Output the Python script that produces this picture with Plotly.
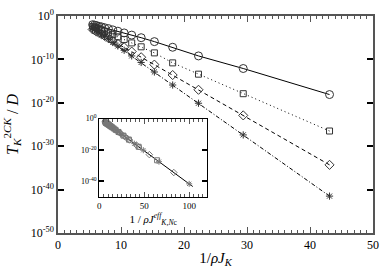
import plotly.graph_objects as go

# ---- data ----
x_main = [43.1, 29.4, 22.3, 18.2, 15.3, 13.2, 11.7, 10.5, 9.5, 8.7, 8.0, 7.4, 6.9, 6.5, 6.1, 5.8, 5.5]
circle_exp = [-18.1, -12.1, -9.2, -7.2, -5.9, -5.0, -4.4, -3.9, -3.5, -3.2, -2.9, -2.7, -2.5, -2.4, -2.2, -2.1, -2.0]
square_exp = [-26.5, -17.9, -13.4, -10.8, -8.5, -7.1, -6.2, -5.4, -4.8, -4.3, -3.9, -3.5, -3.2, -3.0, -2.7, -2.6, -2.4]
diamond_exp = [-34.3, -22.9, -17.0, -13.6, -11.2, -9.5, -8.2, -7.2, -6.4, -5.7, -5.1, -4.6, -4.2, -3.9, -3.6, -3.3, -3.1]
star_exp = [-41.5, -27.4, -20.1, -15.9, -12.9, -10.7, -9.2, -7.9, -6.9, -6.1, -5.3, -4.7, -4.2, -3.8, -3.4, -3.1, -2.9]

# inset: rescaled abscissa 1/rho J_eff
inset_circle_x = [44.3, 30.0, 23.1, 18.3, 15.2, 13.1, 11.7, 10.5, 9.5, 8.8, 8.1, 7.6, 7.1, 6.9, 6.4, 6.2, 6.0]
inset_square_x = [64.3, 43.8, 33.1, 26.9, 21.4, 18.1, 16.0, 14.0, 12.6, 11.4, 10.5, 9.5, 8.8, 8.3, 7.6, 7.4, 6.9]
inset_diamond_x = [82.9, 55.7, 41.7, 33.6, 27.9, 23.8, 20.7, 18.3, 16.4, 14.8, 13.3, 12.1, 11.2, 10.5, 9.8, 9.0, 8.6]
inset_star_x = [100.0, 66.4, 49.0, 39.0, 31.9, 26.7, 23.1, 20.0, 17.6, 15.7, 13.8, 12.4, 11.2, 10.2, 9.3, 8.6, 8.1]
fit_x = [6.0, 104.0]
fit_exp = [-2.0, -43.2]

main_x_ticks = [0, 10, 20, 30, 40, 50]
main_y_ticks_exp = [0, -10, -20, -30, -40, -50]
inset_x_ticks = [0, 50, 100]
inset_y_ticks_exp = [0, -20, -40]


def pw(v):
    return [10.0 ** e for e in v]


def sup_label(e):
    return "10<sup>%d</sup>" % e


FONT = "Liberation Serif"
AX = "#555555"

fig = go.Figure()

series = [
    (circle_exp, inset_circle_x, "circle-open", "solid", 8),
    (square_exp, inset_square_x, "square-open", "1px,3px", 6),
    (diamond_exp, inset_diamond_x, "diamond-open", "4px,3px", 7),
    (star_exp, inset_star_x, "asterisk-open", "4px,2px,1px,2px", 6),
]

for ys, _, sym, dash, sz in series:
    fig.add_trace(go.Scatter(
        x=x_main, y=pw(ys), mode="lines+markers",
        line=dict(color="black", width=1, dash=dash),
        marker=dict(symbol=sym, size=sz, color="#333333", line=dict(color="#333333", width=1)),
        xaxis="x", yaxis="y", showlegend=False))

fig.add_trace(go.Scatter(
    x=fit_x, y=pw(fit_exp), mode="lines",
    line=dict(color="black", width=1), xaxis="x2", yaxis="y2", showlegend=False))

for ys, ix, sym, dash, sz in series:
    fig.add_trace(go.Scatter(
        x=ix, y=pw(ys), mode="markers",
        marker=dict(symbol=sym, size=5, color="#777777", line=dict(color="#777777", width=1)),
        xaxis="x2", yaxis="y2", showlegend=False))

fig.update_layout(
    width=387, height=273,
    margin=dict(l=58, r=8, t=9, b=40),
    paper_bgcolor="white", plot_bgcolor="white",
    font=dict(family=FONT, color="black", size=12),
    xaxis=dict(
        range=[0, 50], tickvals=main_x_ticks, ticks="inside", ticklen=6,
        tickcolor=AX, showline=True, linecolor=AX, linewidth=1.5, mirror="ticks",
        showgrid=False, zeroline=False, tickfont=dict(size=12, family=FONT),
        ticklabeloverflow="allow",
        minor=dict(dtick=1, ticks="inside", ticklen=3, tickcolor=AX, showgrid=False),
        title=dict(text="1/<i>ρJ</i><sub><i>K</i></sub>", font=dict(size=15, family=FONT), standoff=1),
    ),
    yaxis=dict(
        type="log", range=[-50, 0], tickvals=pw(main_y_ticks_exp),
        ticktext=[sup_label(e) for e in main_y_ticks_exp],
        ticks="inside", ticklen=6, tickwidth=2, tickcolor="black",
        showline=True, linecolor=AX, linewidth=1.5, mirror="ticks",
        showgrid=False, zeroline=False, tickfont=dict(size=12, family=FONT),
        ticklabeloverflow="allow",
        title=dict(text="<i>T</i><sub><i>K</i></sub><sup>2<i>CK</i></sup> / <i>D</i>",
                   font=dict(size=16, family=FONT), standoff=8),
    ),
    xaxis2=dict(
        domain=[0.131, 0.4735], anchor="y2", range=[0, 120], tickvals=inset_x_ticks,
        ticks="inside", ticklen=5, tickcolor=AX, showline=True, linecolor="black",
        linewidth=1.2, mirror="ticks", showgrid=False, zeroline=False,
        tickfont=dict(size=9, family=FONT),
        minor=dict(dtick=5, ticks="inside", ticklen=3, tickcolor=AX, showgrid=False),
        title=dict(text="1 / <i>ρJ</i><sup><i>eff</i></sup><sub><i>K,N</i>c</sub>",
                   font=dict(size=11, family=FONT), standoff=0),
    ),
    yaxis2=dict(
        domain=[0.165, 0.527], anchor="x2", type="log", range=[-50, 0],
        tickvals=pw(inset_y_ticks_exp), ticktext=[sup_label(e) for e in inset_y_ticks_exp],
        ticks="inside", ticklen=5, tickwidth=2, tickcolor="black", showline=True,
        linecolor="black", linewidth=1.2, mirror="ticks", showgrid=False, zeroline=False,
        tickfont=dict(size=8, family=FONT),
    ),
)

fig.write_html("out.html", config={"displayModeBar": False},
               post_script="document.body.style.margin='0';")
